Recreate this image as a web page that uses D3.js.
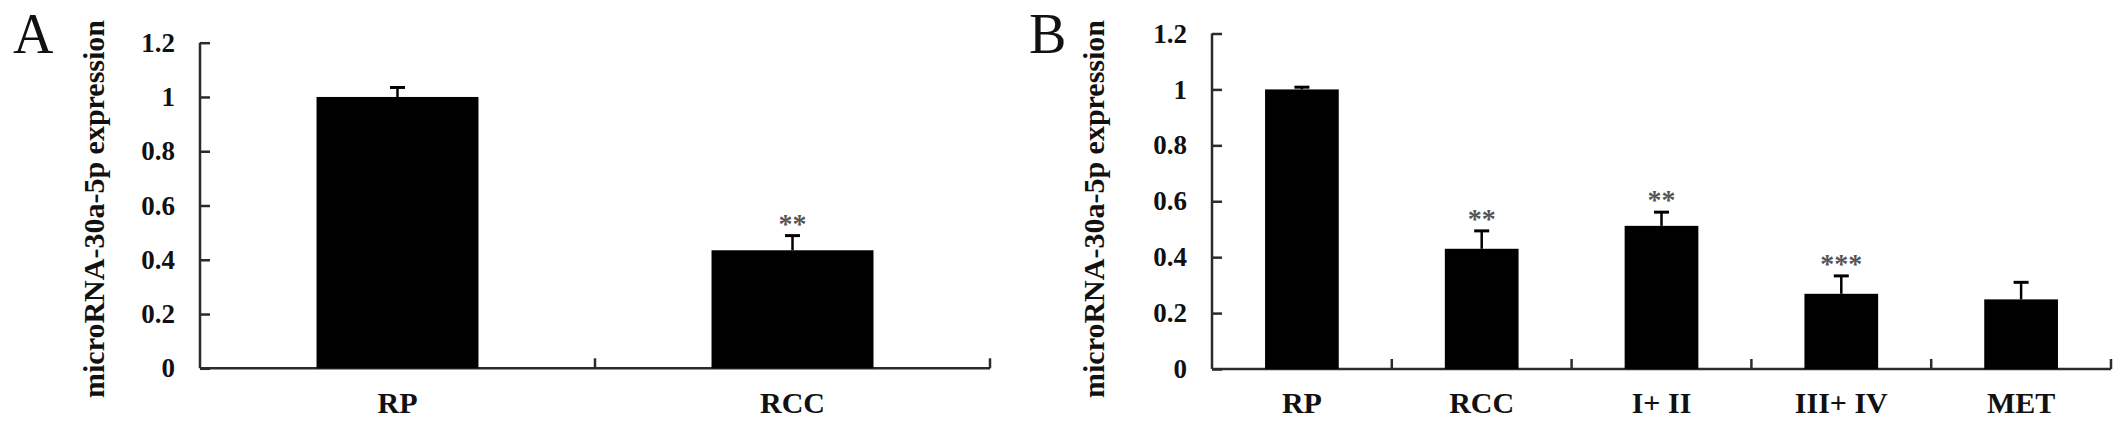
<!DOCTYPE html>
<html>
<head>
<meta charset="utf-8">
<script src="https://d3js.org/d3.v7.min.js"></script>
<style>
	body { margin: 0; background: white; }
	text { font-family: "Liberation Serif", "Times New Roman", serif; }
</style>
</head>
<body>
<script>
var w = 2126, h = 428;

// values
var yTickValues = [0, 0.2, 0.4, 0.6, 0.8, 1, 1.2];
var yTitle = "microRNA-30a-5p expression";

var catsA = ["RP", "RCC"];
var meanA = [1.0, 0.435];
var errA = [0.035, 0.054];
var sigA = ["", "**"];

var catsB = ["RP", "RCC", "I+ II", "III+ IV", "MET"];
var meanB = [1.0, 0.43, 0.512, 0.269, 0.249];
var errB = [0.008, 0.064, 0.049, 0.064, 0.061];
var sigB = ["", "**", "**", "***", ""];

var svg;
var axisColor = "#2b2b2b";

function drawPanel(letter, cats, means, errs, sigs, box) {
	var g = svg.append("g");

	var y = d3.scaleLinear()
		.domain([0, 1.2])
		.range([box.bottom, box.top]);
	var x = d3.scaleBand()
		.domain(cats)
		.range([box.left, box.right])
		.padding(0);
	var bw = x.bandwidth() * 0.41;

	// panel letter
	g.append("text")
		.attr("x", box.letterX)
		.attr("y", 53)
		.attr("font-size", 56)
		.attr("fill", "#111")
		.text(letter);

	// y title
	g.append("text")
		.attr("transform", "translate(" + box.titleX + ",398) rotate(-90)")
		.attr("text-anchor", "start")
		.attr("font-size", 30)
		.attr("font-weight", "bold")
		.attr("fill", "#111")
		.text(yTitle);

	// y axis, ticks pointing inward
	var yAxis = g.append("g")
		.attr("transform", "translate(" + box.left + ",0)")
		.call(d3.axisLeft(y)
			.tickValues(yTickValues)
			.tickSize(-10)
			.tickPadding(25)
			.tickFormat(function (d) { return String(+d.toFixed(1)); }));
	yAxis.select(".domain")
		.attr("stroke", axisColor)
		.attr("stroke-width", 2.5)
		.attr("d", "M0," + box.top + "V" + box.bottom);
	yAxis.selectAll(".tick line")
		.attr("stroke", axisColor)
		.attr("stroke-width", 2.5);
	yAxis.selectAll(".tick text")
		.attr("font-size", 27)
		.attr("font-weight", "bold")
		.attr("fill", "#111")
		.attr("font-family", "'Liberation Serif', 'Times New Roman', serif");

	// x axis line
	g.append("line")
		.attr("x1", box.left)
		.attr("x2", box.right)
		.attr("y1", y(0))
		.attr("y2", y(0))
		.attr("stroke", axisColor)
		.attr("stroke-width", 2.5);

	// category boundary ticks
	g.selectAll(".xtick")
		.data(cats)
		.enter()
		.append("line")
		.attr("x1", function (d) { return x(d) + x.bandwidth(); })
		.attr("x2", function (d) { return x(d) + x.bandwidth(); })
		.attr("y1", y(0))
		.attr("y2", y(0) - 10)
		.attr("stroke", axisColor)
		.attr("stroke-width", 2.5);

	// bars
	g.selectAll(".bar")
		.data(cats)
		.enter()
		.append("rect")
		.attr("x", function (d) { return x(d) + (x.bandwidth() - bw) / 2; })
		.attr("y", function (d, i) { return y(means[i]); })
		.attr("width", bw)
		.attr("height", function (d, i) { return y(0) - y(means[i]); })
		.attr("fill", "black");

	// error bars (upper only)
	cats.forEach(function (d, i) {
		var cx = x(d) + x.bandwidth() / 2;
		var top = y(means[i] + errs[i]);
		g.append("line")
			.attr("x1", cx).attr("x2", cx)
			.attr("y1", y(means[i]))
			.attr("y2", top)
			.attr("stroke", "black")
			.attr("stroke-width", 2.5);
		g.append("line")
			.attr("x1", cx - 7.5).attr("x2", cx + 7.5)
			.attr("y1", top)
			.attr("y2", top)
			.attr("stroke", "black")
			.attr("stroke-width", 3);
		if (sigs[i]) {
			g.append("text")
				.attr("x", cx)
				.attr("y", top - 17 + 14)
				.attr("text-anchor", "middle")
				.attr("font-size", 28)
				.attr("font-weight", "bold")
				.attr("fill", "#555")
				.text(sigs[i]);
		}
	});

	// x labels
	g.selectAll(".xlab")
		.data(cats)
		.enter()
		.append("text")
		.attr("x", function (d) { return x(d) + x.bandwidth() / 2; })
		.attr("y", 413)
		.attr("text-anchor", "middle")
		.attr("font-size", 30)
		.attr("font-weight", "bold")
		.attr("fill", "#111")
		.text(function (d) { return d; });
}

function main() {
	svg = d3.select("body")
		.append("svg")
		.attr("width", w)
		.attr("height", h);
	svg.append("rect")
		.attr("width", w)
		.attr("height", h)
		.attr("fill", "white");

	drawPanel("A", catsA, meanA, errA, sigA,
		{ left: 200, right: 990, top: 42.7, bottom: 368.3, letterX: 13, titleX: 104 });
	drawPanel("B", catsB, meanB, errB, sigB,
		{ left: 1212, right: 2111, top: 33.5, bottom: 369, letterX: 1029, titleX: 1104 });
}

main();
</script>
</body>
</html>
